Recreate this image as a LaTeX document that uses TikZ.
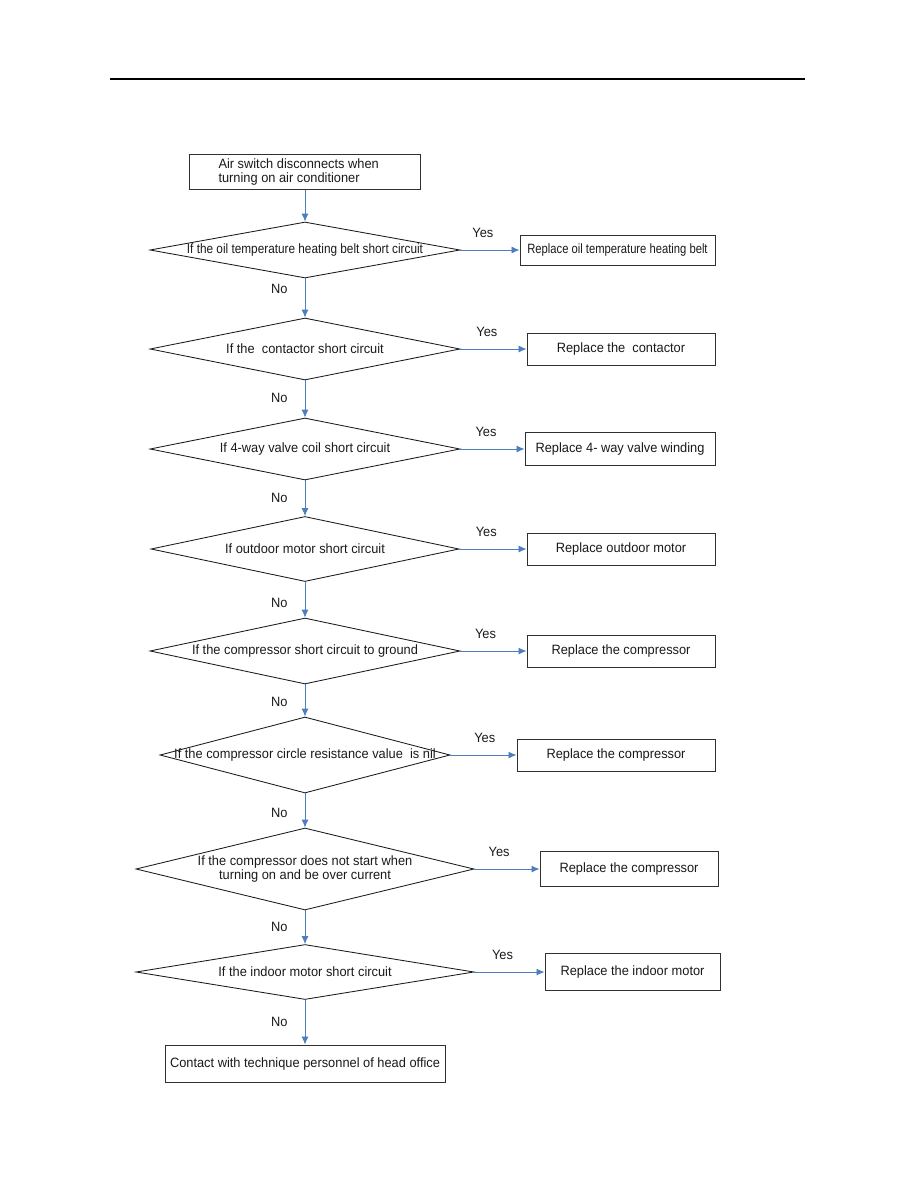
\documentclass[tikz,border=0pt]{standalone}
\usepackage{fontspec}
\setmainfont{Liberation Sans}[FakeStretch=0.95]
\usepackage{graphicx}
\usepackage{tikz}
\usetikzlibrary{arrows.meta,positioning,shapes.geometric}
\definecolor{fcInk}{HTML}{1A1A1A}
\definecolor{fcFrame}{HTML}{303030}
\definecolor{fcFlow}{HTML}{4F7EBE}
\tikzset{
  fc diagram/.style={x=1pt, y=-1pt, text=fcInk,
    font=\fontsize{13.5}{14}\selectfont},
  fc box/.style={draw=fcFrame, fill=white, line width=1pt,
    inner sep=0pt, align=center},
  fc decision/.style={shape=diamond, draw=fcInk, line width=0.85pt,
    inner sep=0pt},
  fc question/.style={inner sep=0pt, align=center},
  fc arrow/.style={-{Latex[length=8pt,width=7pt]}, draw=fcFlow,
    line width=0.9pt},
  fc label/.style={inner sep=0pt, text=fcInk}
}

\begin{document}
\begin{tikzpicture}[fc diagram]
\useasboundingbox (0,0) rectangle (918,1188);
\draw[line width=1.6pt] (110,79) -- (805,79);

\node[fc box, align=flush left, text width=173pt, inner xsep=29pt,
  minimum height=35pt] (start) at (305,172)
  {Air switch disconnects when\\turning on air conditioner};

\node[fc decision, minimum width=310pt, minimum height=56pt] (d1) at (305,250) {};
\node[fc decision, minimum width=310pt, minimum height=62pt] (d2) at (305,349) {};
\node[fc decision, minimum width=310pt, minimum height=62pt] (d3) at (305,449) {};
\node[fc decision, minimum width=308pt, minimum height=65pt] (d4) at (305,549) {};
\node[fc decision, minimum width=310pt, minimum height=66pt] (d5) at (305,651) {};
\node[fc decision, minimum width=290pt, minimum height=76pt] (d6) at (305,755) {};
\node[fc decision, minimum width=338pt, minimum height=82pt] (d7) at (305,869) {};
\node[fc decision, minimum width=338pt, minimum height=55pt] (d8) at (305,972) {};

\node[fc question] (q1) at (d1) {\scalebox{0.92}[1]{If the oil temperature heating belt short circuit}};
\node[fc question] (q2) at (d2) {If the~ contactor short circuit};
\node[fc question] (q3) at (d3) {If 4-way valve coil short circuit};
\node[fc question] (q4) at (d4) {If outdoor motor short circuit};
\node[fc question] (q5) at (d5) {If the compressor short circuit to ground};
\node[fc question] (q6) at (d6) {If the compressor circle resistance value~ is nil};
\node[fc question] (q7) at (d7) {If the compressor does not start when\\turning on and be over current};
\node[fc question] (q8) at (d8) {If the indoor motor short circuit};

\node[fc box, minimum width=195pt, minimum height=30pt] (r1) at (617.5,250)
  {\scalebox{0.875}[1]{Replace oil temperature heating belt}};
\node[fc box, minimum width=188pt, minimum height=32pt] (r2) at (621,349) {Replace the~ contactor};
\node[fc box, minimum width=190pt, minimum height=33pt] (r3) at (620,449) {Replace 4- way valve winding};
\node[fc box, minimum width=188pt, minimum height=32pt] (r4) at (621,549) {Replace outdoor motor};
\node[fc box, minimum width=188pt, minimum height=32pt] (r5) at (621,651) {Replace the compressor};
\node[fc box, minimum width=198pt, minimum height=32pt] (r6) at (616,755) {Replace the compressor};
\node[fc box, minimum width=178pt, minimum height=35pt] (r7) at (629,869) {Replace the compressor};
\node[fc box, minimum width=175pt, minimum height=37pt] (r8) at (632.5,972) {Replace the indoor motor};

\node[fc box, minimum width=280pt, minimum height=37pt] (stop) at (305,1063.5)
  {Contact with technique personnel of head office};

\draw[fc arrow] (start) -- (d1);
\foreach \a/\b/\p in {d1/d2/0.28,d2/d3/0.47,d3/d4/0.5,d4/d5/0.6,
    d5/d6/0.55,d6/d7/0.57,d7/d8/0.5,d8/stop/0.5}
  \draw[fc arrow] (\a) -- node[fc label, pos=\p, left=17pt] (n\a) {No} (\b);
\foreach \i/\p in {1/0.38,2/0.4,3/0.4,4/0.4,5/0.38,6/0.52,7/0.38,8/0.4}
  \draw[fc arrow] (d\i.east) -- node[fc label, pos=\p, above=12pt] (y\i) {Yes} (r\i.west);
\end{tikzpicture}
\end{document}
